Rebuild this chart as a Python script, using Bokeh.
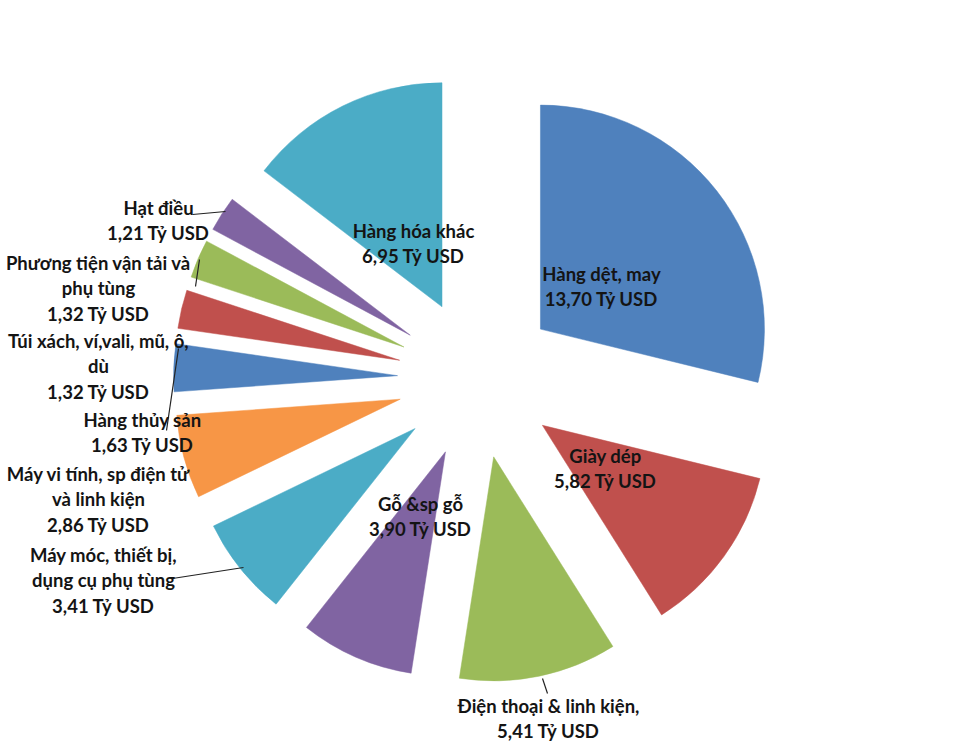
import math
from bokeh.plotting import figure
from bokeh.models import Range1d, ColumnDataSource
from bokeh.core.properties import value
from bokeh.embed import file_html
from bokeh.resources import INLINE

# ---- data (clockwise from 12 o'clock) ----
categories = [
    "Hàng dệt, may", "Giày dép", "Điện thoại & linh kiện,", "Gỗ &sp gỗ",
    "Máy móc, thiết bị,\ndụng cụ phụ tùng", "Máy vi tính, sp điện tử\nvà linh kiện",
    "Hàng thủy sản", "Túi xách, ví,vali, mũ, ô,\ndù", "Phương tiện vận tải và\nphụ tùng",
    "Hạt điều", "Hàng hóa khác",
]
values = [13.70, 5.82, 5.41, 3.90, 3.41, 2.86, 1.63, 1.32, 1.32, 1.21, 6.95]
value_labels = ["13,70", "5,82", "5,41", "3,90", "3,41", "2,86", "1,63", "1,32", "1,32", "1,21", "6,95"]
unit = "Tỷ USD"

colors = ["#4F81BD", "#C0504D", "#9BBB59", "#8064A2", "#4BACC6", "#F79646",
          "#4F81BD", "#C0504D", "#9BBB59", "#8064A2", "#4BACC6"]

# ---- layout (pixel coords, y down) ----
W, H = 960, 756
CX, CY = 477, 378
R = 224
EXPLODE = 80
label_pos = [(601, 286), (605, 468), (548, 718), (420, 516), (103, 580), (98, 499),
             (142, 432), (98, 366), (98, 288), (158, 220), (413, 243)]
leaders = [  # (x0, y0, x1, y1) pixel
    (192, 214, 225, 211),
    (199, 259, 195, 286),
    (178, 348, 166, 430),
    (172, 578, 243, 567),
    (542, 678, 547, 693),
]

total = sum(values)
cum = 0.0
xs, ys, sa, ea = [], [], [], []
for v in values:
    t0 = cum / total * 360.0
    cum += v
    t1 = cum / total * 360.0
    mid = math.radians((t0 + t1) / 2)
    xs.append(CX + EXPLODE * math.sin(mid))
    ys.append((H - CY) + EXPLODE * math.cos(mid))
    sa.append(math.radians(90 - t1))
    ea.append(math.radians(90 - t0))

src = ColumnDataSource(dict(x=xs, y=ys, sa=sa, ea=ea, color=colors))

p = figure(width=W, height=H, x_range=Range1d(0, W), y_range=Range1d(0, H),
           x_axis_type=None, y_axis_type=None, toolbar_location=None,
           output_backend="svg", min_border=0, outline_line_color=None,
           background_fill_color="white", border_fill_color="white")
p.grid.visible = False

p.wedge(x="x", y="y", radius=R, start_angle="sa", end_angle="ea", direction="anticlock",
        fill_color="color", line_color="color", line_width=0.5, source=src)

p.segment(x0=[l[0] for l in leaders], y0=[H - l[1] for l in leaders],
          x1=[l[2] for l in leaders], y1=[H - l[3] for l in leaders],
          line_color="#222222", line_width=1.2)

texts = [f"{c}\n{vl} {unit}" for c, vl in zip(categories, value_labels)]
p.text(x=[lp[0] for lp in label_pos], y=[H - lp[1] for lp in label_pos], text=texts,
       text_font=value("Lato"), text_font_style="bold", text_font_size="18.5px",
       text_align="center", text_baseline="middle", text_line_height=1.15,
       text_color="#141414")

open("out.html", "w").write(file_html(p, INLINE))
